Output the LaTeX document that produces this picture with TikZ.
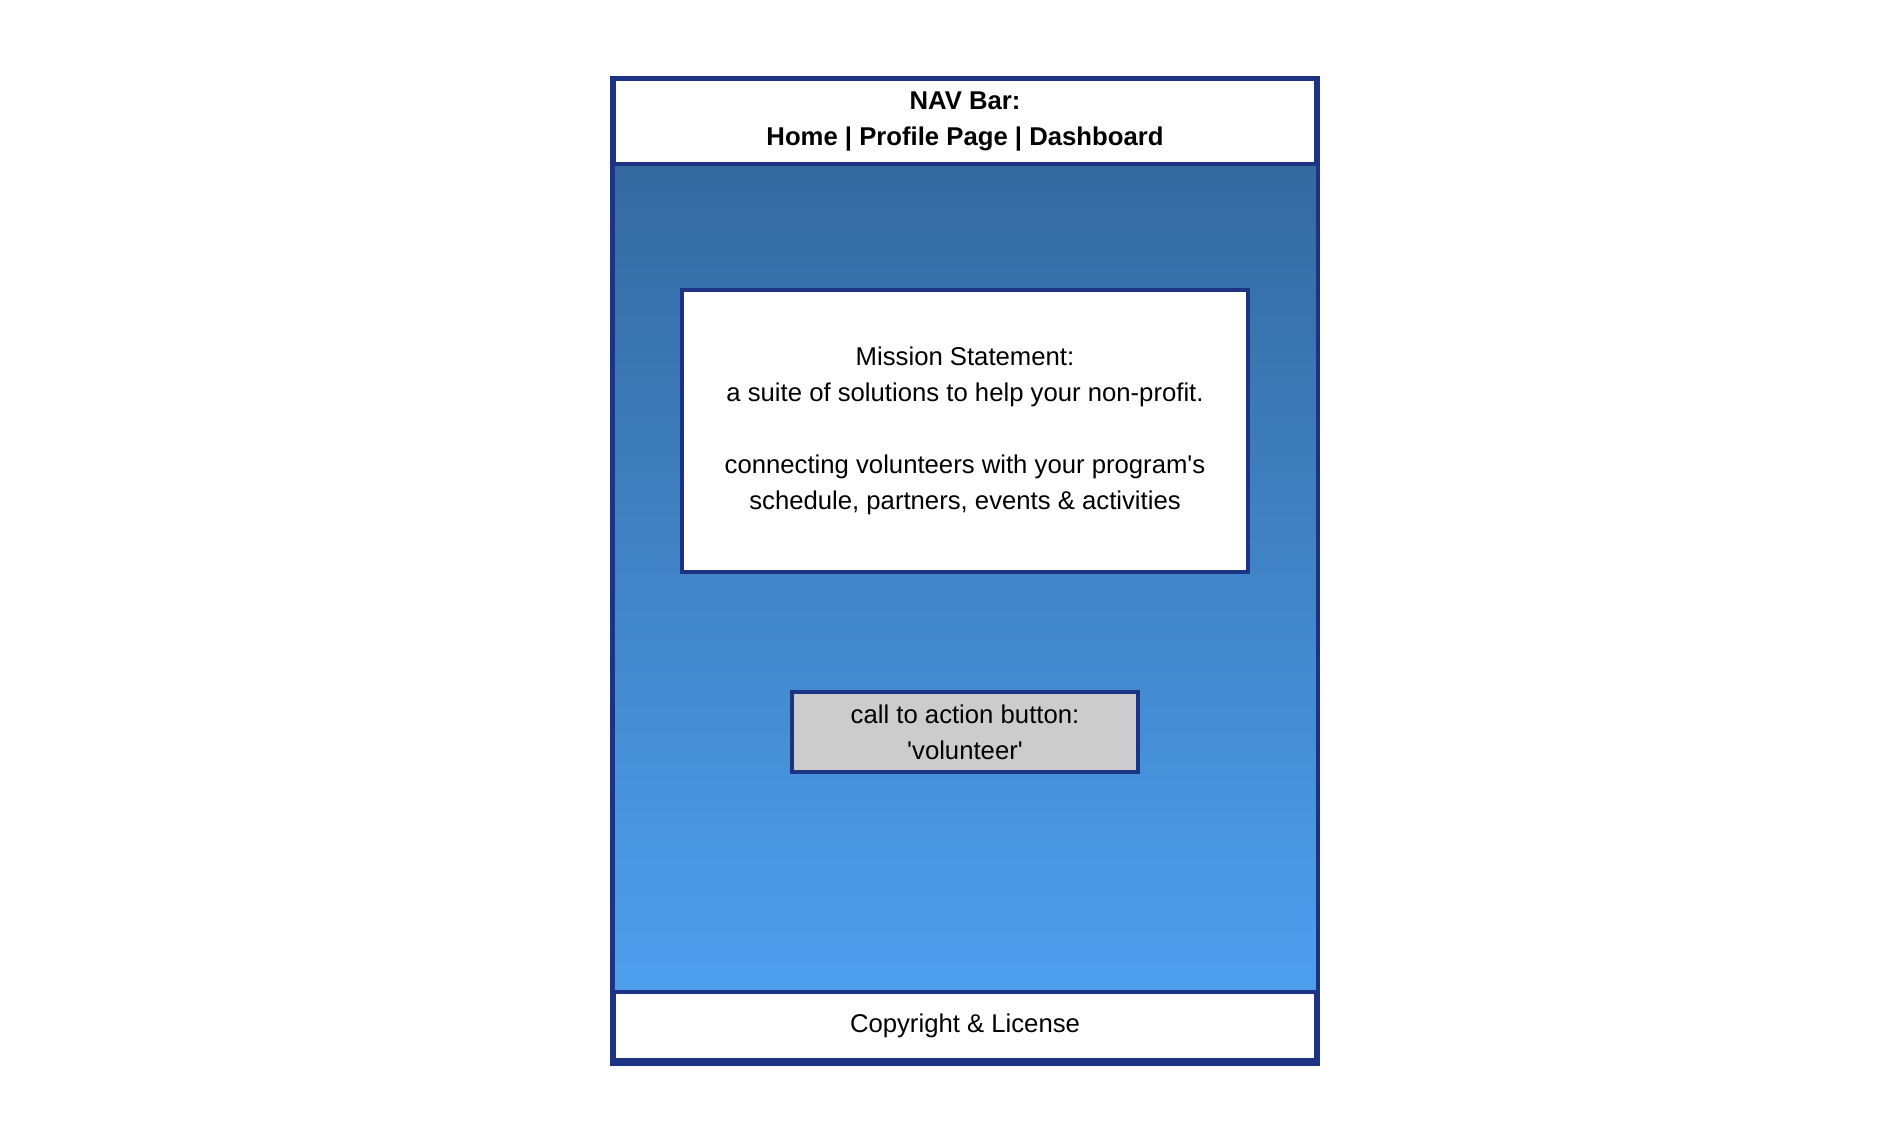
\documentclass[tikz,border=0pt]{standalone}
\usepackage{fontspec}
\setmainfont{Liberation Sans}
\definecolor{navy}{HTML}{1D3384}
\definecolor{gtop}{HTML}{316497}
\definecolor{gbot}{HTML}{50A4F6}
\definecolor{btngray}{HTML}{CCCCCC}
\tikzset{
  boxbase/.style={draw=navy, line width=4pt, inner sep=0pt, outer sep=0pt, align=center,
    font=\fontsize{25.7}{36}\selectfont, text=black},
  whitebox/.style={boxbase, fill=white},
  graybox/.style={boxbase, fill=btngray},
  framebox/.style={draw=navy, line width=4.5pt, inner sep=0pt, outer sep=0pt,
    top color=gtop, bottom color=gbot}
}
\begin{document}
\begin{tikzpicture}[x=1pt,y=-1pt]
\useasboundingbox (0,0) rectangle (1892,1120);
\node[framebox, minimum width=705.5pt, minimum height=986pt] (frame) at (965.25,571) {};
\node[whitebox, minimum width=702pt, minimum height=85pt, font=\fontsize{25.7}{36}\selectfont\bfseries] (nav) at (965,121.5) {NAV Bar:\\Home | Profile Page | Dashboard};
\node[whitebox, minimum width=702pt, minimum height=68pt] (footer) at (965,1026) {Copyright \& License};
\draw[navy, line width=4.5pt] (frame.north west) rectangle (frame.south east);
\node[whitebox, minimum width=566pt, minimum height=282pt] (mission) at (965,431)
  {Mission Statement:\\a suite of solutions to help your non-profit.\\\mbox{}\\connecting volunteers with your program\textquotesingle s\\schedule, partners, events \& activities};
\node[graybox, minimum width=346pt, minimum height=80pt] (cta) at (965,732)
  {call to action button:\\\textquotesingle volunteer\textquotesingle};
\end{tikzpicture}
\end{document}
